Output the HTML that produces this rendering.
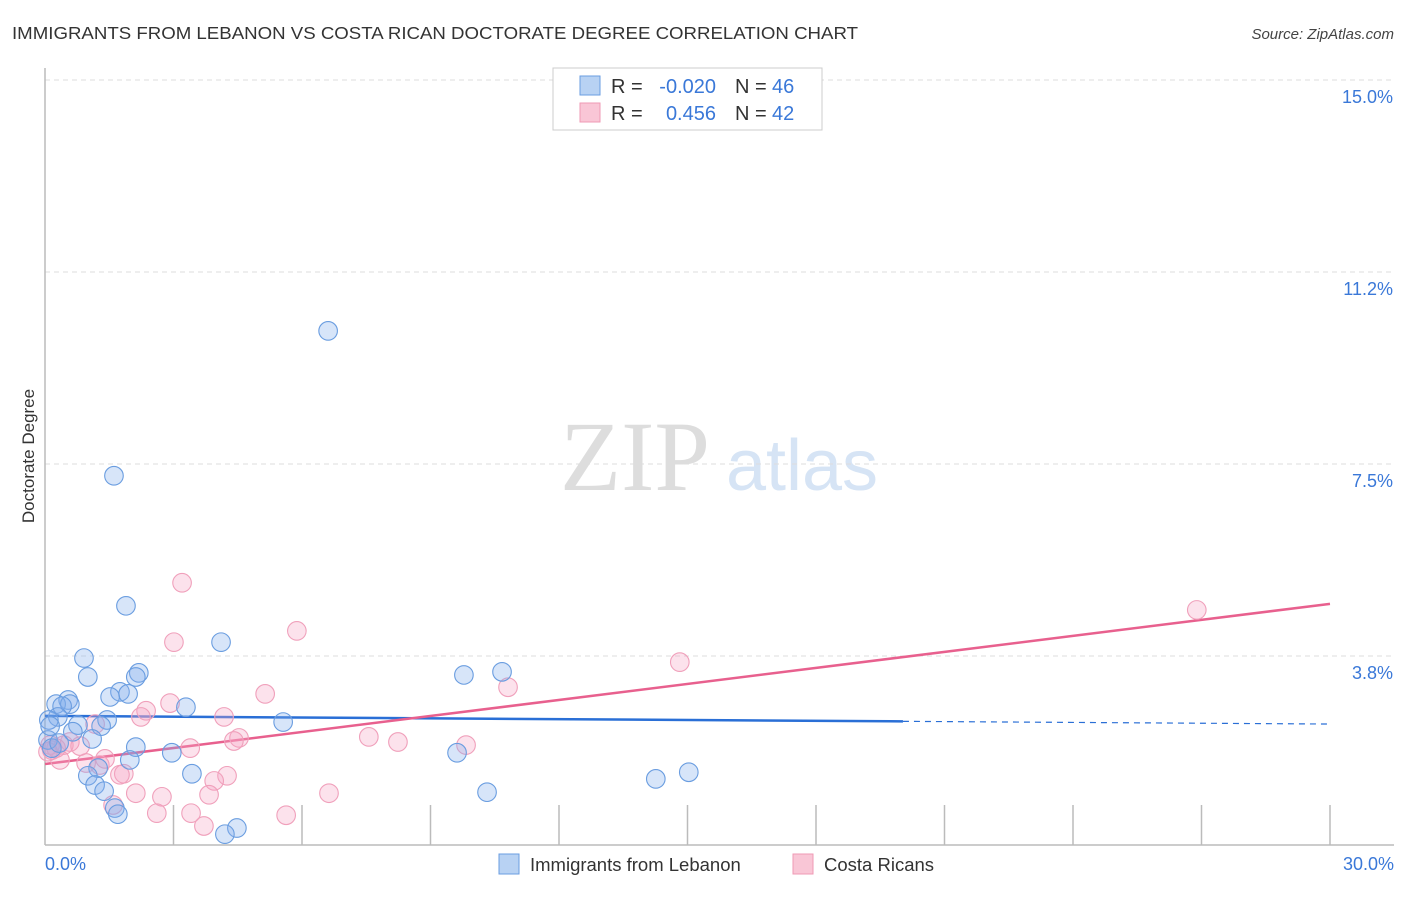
<!DOCTYPE html>
<html><head><meta charset="utf-8"><style>
body{margin:0;background:#fff;font-family:"Liberation Sans",sans-serif;}
</style></head><body>
<svg id="chart" width="1406" height="892" viewBox="0 0 1406 892" font-family="Liberation Sans, sans-serif">
<text x="12" y="39" font-size="17.5" fill="#333" textLength="846" lengthAdjust="spacingAndGlyphs">IMMIGRANTS FROM LEBANON VS COSTA RICAN DOCTORATE DEGREE CORRELATION CHART</text>
<text x="1394" y="39" font-size="15" fill="#444" text-anchor="end" font-style="italic">Source: ZipAtlas.com</text>
<text transform="translate(34,456) rotate(-90)" font-size="17" fill="#333" text-anchor="middle">Doctorate Degree</text>
<g>
<text x="635" y="490" font-size="100" fill="#ddd" style="font-family:'Liberation Serif',serif" text-anchor="middle">ZIP</text>
<text x="802" y="490" font-size="72" fill="#d6e4f5" text-anchor="middle">atlas</text>
</g>
<g id="grid"></g><g id="ticks"></g><g id="trend"></g><g id="points"></g>
<g>
<rect x="553" y="68" width="269" height="62" fill="#fff" stroke="#ccc"/>
<rect x="580" y="76" width="20" height="19" fill="#b8d2f3" stroke="#6a9de0"/>
<rect x="580" y="103" width="20" height="19" fill="#f9c6d6" stroke="#ef9ab4"/>
<text x="611" y="93" font-size="20" fill="#333">R =</text>
<text x="716" y="93" font-size="20" fill="#3a78d8" text-anchor="end">-0.020</text>
<text x="735" y="93" font-size="20" fill="#333">N =</text>
<text x="772" y="93" font-size="20" fill="#3a78d8">46</text>
<text x="611" y="120" font-size="20" fill="#333">R =</text>
<text x="716" y="120" font-size="20" fill="#3a78d8" text-anchor="end">0.456</text>
<text x="735" y="120" font-size="20" fill="#333">N =</text>
<text x="772" y="120" font-size="20" fill="#3a78d8">42</text>
</g>
<g>
<rect x="499" y="854" width="20" height="20" fill="#b8d2f3" stroke="#6a9de0"/>
<text x="530" y="871" font-size="18.5" fill="#333">Immigrants from Lebanon</text>
<rect x="793" y="854" width="20" height="20" fill="#f9c6d6" stroke="#ef9ab4"/>
<text x="824" y="871" font-size="18.5" fill="#333">Costa Ricans</text>
</g>
</svg>
<script>
const xTickLabels=["0.0%","30.0%"];
const yTicks=[3.75,7.5,11.25,15];
const yTickLabels=["3.8%","7.5%","11.2%","15.0%"];
const blueX=[6.61,1.61,1.89,4.11,0.91,2.19,2.12,1.00,9.78,10.67,1.75,1.94,1.52,0.54,0.26,0.58,0.40,3.29,1.45,0.30,0.09,0.77,1.31,5.56,0.65,1.10,0.07,2.12,0.16,2.96,9.62,1.98,1.24,3.43,1.00,14.26,15.03,1.17,1.38,10.32,1.63,1.70,4.48,4.20,0.33,0.12];
const blueY=[10.10,7.27,4.73,4.02,3.71,3.42,3.34,3.34,3.38,3.44,3.05,3.01,2.95,2.89,2.81,2.81,2.77,2.75,2.50,2.56,2.50,2.40,2.38,2.46,2.27,2.13,2.11,1.97,1.95,1.86,1.86,1.72,1.56,1.45,1.41,1.35,1.48,1.23,1.11,1.09,0.78,0.66,0.39,0.27,2.05,2.38];
const pinkX=[3.20,5.88,3.01,14.82,26.89,10.81,5.14,2.92,2.36,2.24,4.18,1.17,7.56,8.24,9.83,4.53,4.41,3.39,0.58,0.44,0.12,0.16,0.35,0.96,1.28,1.40,1.84,1.75,4.25,3.95,2.12,2.73,3.83,6.63,1.59,2.61,3.41,3.71,5.63,0.26,0.82,0.07];
const pinkY=[5.18,4.24,4.02,3.63,4.65,3.14,3.01,2.83,2.68,2.56,2.56,2.42,2.17,2.07,2.01,2.15,2.09,1.95,2.07,2.01,2.01,1.91,1.72,1.66,1.62,1.74,1.45,1.43,1.41,1.31,1.07,1.00,1.04,1.07,0.84,0.68,0.68,0.43,0.64,1.95,1.99,1.88];
const blueTrend=[2.58,-0.0053];
const pinkTrend=[1.64,0.1043];
const blueSolidEnd=20.03;

const NS="http://www.w3.org/2000/svg";
const X=v=>45+v/30*1285;
const Y=v=>848-v/3.75*192;
function mk(tag,attrs,parent){const e=document.createElementNS(NS,tag);for(const k in attrs)e.setAttribute(k,attrs[k]);document.getElementById(parent).appendChild(e);return e;}

yTicks.forEach((t,i)=>{
  const g=mk('line',{x1:45,x2:1394,y1:Y(t),y2:Y(t),stroke:'#ddd','stroke-dasharray':'5,4'},'grid');
  
  
  const tx=mk('text',{x:1393,y:Y(t)+23,'font-size':18,fill:'#3a78d8','text-anchor':'end'},'ticks');
  tx.textContent=yTickLabels[i];
  
  
});
let ax=mk('line',{x1:45,x2:45,y1:68,y2:845,stroke:'#bbb','stroke-width':1.5},'grid');


ax=mk('line',{x1:45,x2:1394,y1:845,y2:845,stroke:'#bbb','stroke-width':1.5},'grid');


for(let i=1;i<=10;i++){
  const t=mk('line',{x1:X(i*3),x2:X(i*3),y1:805,y2:845,stroke:'#bbb','stroke-width':1.5},'grid');
  
  
}
[[0,'start',45],[30,'end',1394]].forEach((d,i)=>{
  const t=mk('text',{x:d[2],y:870,'font-size':18,fill:'#3a78d8','text-anchor':d[1]},'ticks');
  t.textContent=xTickLabels[i];
  
  
});

function pts(xs,ys,fill,stroke,name){
  xs.forEach((x,i)=>{
    const c=mk('circle',{cx:X(x),cy:Y(ys[i]),r:9.3,fill:fill,stroke:stroke,'stroke-width':1.1},'points');
    
    
  });
}
pts(pinkX,pinkY,'rgba(245,165,195,0.32)','#f0a0bb','costa-rican-point');
pts(blueX,blueY,'rgba(130,175,235,0.32)','#6a9de0','lebanon-point');

let l=mk('line',{x1:X(0),y1:Y(blueTrend[0]),x2:X(blueSolidEnd),y2:Y(blueTrend[0]+blueTrend[1]*blueSolidEnd),stroke:'#2a6fd6','stroke-width':2.5},'trend');


l=mk('line',{x1:X(blueSolidEnd),y1:Y(blueTrend[0]+blueTrend[1]*blueSolidEnd),x2:X(30),y2:Y(blueTrend[0]+blueTrend[1]*30),stroke:'#2a6fd6','stroke-width':1.2,'stroke-dasharray':'6,5'},'trend');


l=mk('line',{x1:X(0),y1:Y(pinkTrend[0]),x2:X(30),y2:Y(pinkTrend[0]+pinkTrend[1]*30),stroke:'#e8608e','stroke-width':2.5},'trend');


</script>
</body></html>
